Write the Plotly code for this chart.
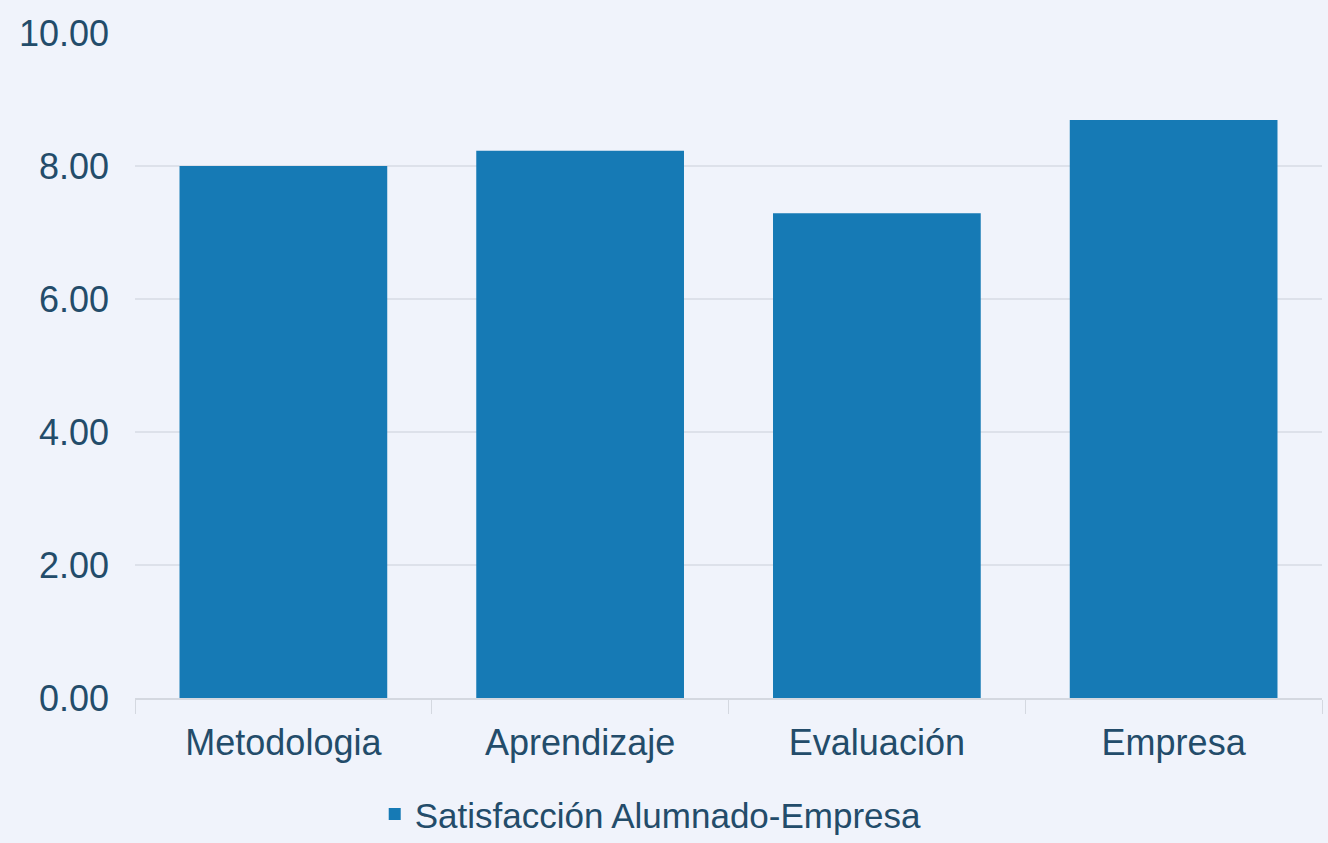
import plotly.graph_objects as go

categories = ["Metodologia", "Aprendizaje", "Evaluación", "Empresa"]
values = [8.00, 8.23, 7.29, 8.69]
series_name = "Satisfacción Alumnado-Empresa"
y_ticks = [0, 2, 4, 6, 8, 10]

bg = "#f0f3fb"
text_color = "#234c6a"
font_family = "Liberation Sans, Arial, sans-serif"

fig = go.Figure()
fig.add_trace(go.Bar(
    x=categories, y=values, name=series_name,
    marker=dict(color="#167ab5", line=dict(width=0)),
    showlegend=True,
))

fig.update_layout(
    width=1328, height=843,
    paper_bgcolor=bg, plot_bgcolor=bg,
    margin=dict(l=135, r=6, t=33, b=145),
    bargap=0.3,
    font=dict(family=font_family, size=36, color=text_color),
    showlegend=True,
    legend=dict(orientation="h", x=0.49, xanchor="center", xref="container",
                y=0.034, yanchor="middle", yref="container",
                font=dict(size=35, color=text_color), bgcolor="rgba(0,0,0,0)"),
    xaxis=dict(showline=True, linecolor="#d4d8e0", linewidth=2,
               ticks="outside", tickson="boundaries", ticklen=14, tickcolor="#d4d8e0",
               tickwidth=1, showgrid=False, ticklabelstandoff=12,
               tickfont=dict(size=36, color=text_color)),
    yaxis=dict(range=[0, 10], tickvals=y_ticks, tickformat=".2f",
               showgrid=True, gridcolor="#dde1ea", gridwidth=2, zeroline=False,
               showline=False, ticks="", ticklabelstandoff=25,
               tickfont=dict(size=36, color=text_color)),
)

fig.write_html("out.html", config={"displayModeBar": False},
               post_script="document.body.style.margin='0';document.body.style.background='%s';" % bg)
